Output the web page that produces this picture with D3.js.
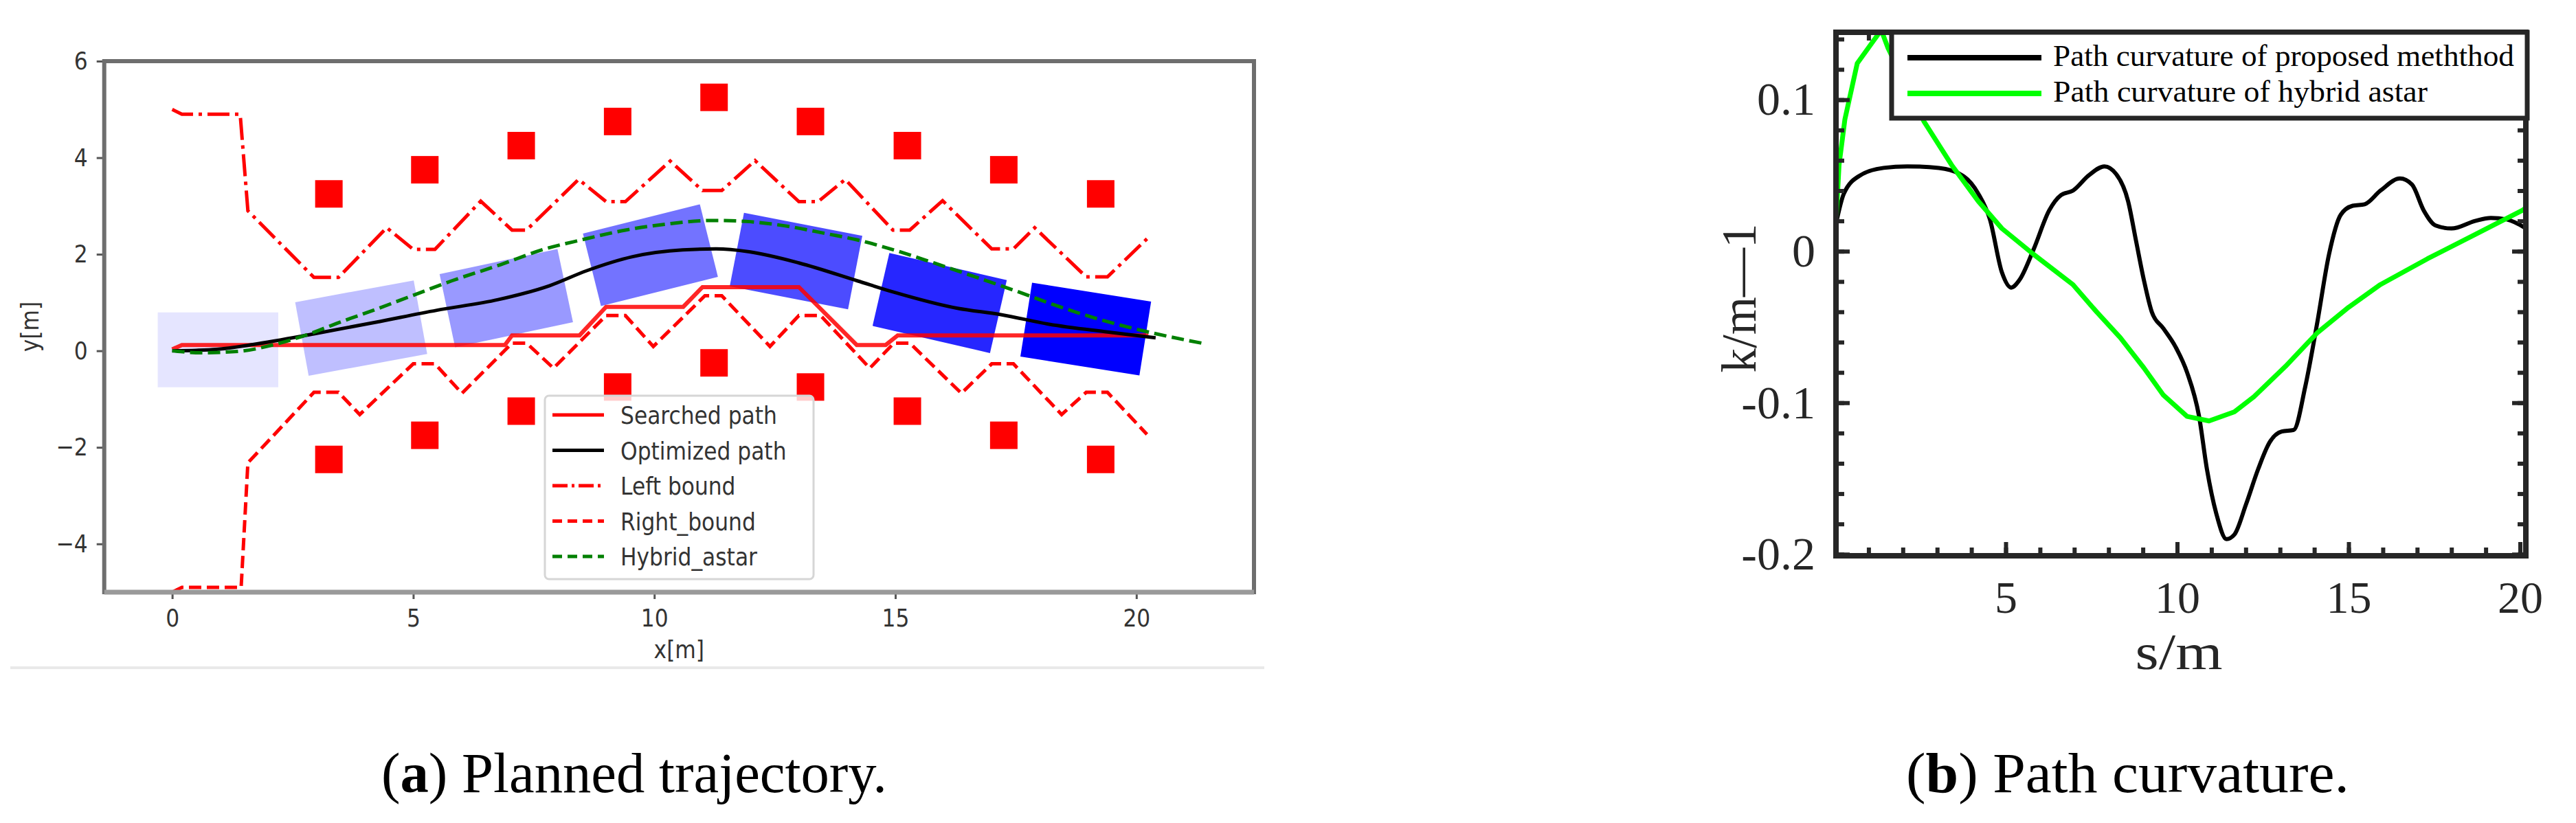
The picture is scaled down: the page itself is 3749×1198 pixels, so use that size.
<!DOCTYPE html>
<html><head><meta charset="utf-8">
<script src="https://cdn.jsdelivr.net/npm/d3@7"></script>
<style>html,body{margin:0;padding:0;background:#fff;overflow:hidden}</style>
</head><body>
<svg id="chart" width="3749" height="1198"></svg>
<script>
// ---------------- DATA: (a) planned trajectory ----------------
const xTicksA = [0, 5, 10, 15, 20];
const yTicksA = [-4, -2, 0, 2, 4, 6];

const obstacleX = [3.25, 5.24, 7.24, 9.24, 11.24, 13.24, 15.25, 17.25, 19.26];
const upperObstacleY = [3.25, 3.75, 4.25, 4.75, 5.25, 4.75, 4.25, 3.75, 3.25];
const lowerObstacleY = [-2.25, -1.75, -1.25, -0.75, -0.25, -0.75, -1.25, -1.75, -2.25];

const boxX = [0.95, 3.92, 6.93, 9.92, 12.94, 15.92, 18.95];
const boxY = [0.02, 0.47, 1.09, 1.98, 1.86, 0.99, 0.45];
const boxHeading = [0, 10.4, 12, 14, -11, -13, -9];

const searchedX = [0, 0.2, 6.9, 7.05, 8.45, 9.0, 10.6, 11.0, 13.0, 14.2, 14.8, 15.05, 20.25];
const searchedY = [0.03, 0.12, 0.12, 0.32, 0.32, 0.91, 0.91, 1.32, 1.32, 0.12, 0.12, 0.32, 0.32];

const optimizedX = [0, 0.5, 0.92, 1.67, 2.94, 4.21, 5.49, 6.76, 7.83, 8.6, 9.55, 10.59, 11.28, 11.97, 13.0, 14.21, 14.95, 16.29, 17.19, 18.19, 19.4, 20.4];
const optimizedY = [0, 0.01, 0.03, 0.13, 0.35, 0.59, 0.84, 1.06, 1.35, 1.66, 1.95, 2.09, 2.11, 2.05, 1.82, 1.45, 1.22, 0.88, 0.75, 0.55, 0.39, 0.27];

const leftBoundX = [0, 0.2, 1.41, 1.57, 2.94, 3.45, 4.45, 5.0, 5.45, 6.4, 7.05, 7.35, 8.43, 9.0, 9.4, 10.33, 11.0, 11.4, 12.09, 13.0, 13.4, 13.96, 14.95, 15.3, 15.98, 17.0, 17.45, 17.89, 18.96, 19.4, 20.22];
const leftBoundY = [5.0, 4.9, 4.9, 2.9, 1.52, 1.52, 2.55, 2.1, 2.1, 3.1, 2.5, 2.5, 3.55, 3.09, 3.09, 3.93, 3.32, 3.32, 3.94, 3.09, 3.09, 3.55, 2.5, 2.5, 3.11, 2.11, 2.11, 2.55, 1.53, 1.53, 2.32];

const rightBoundX = [0, 0.2, 1.43, 1.57, 2.94, 3.45, 3.89, 5.0, 5.45, 6.01, 7.05, 7.35, 7.91, 9.0, 9.4, 9.98, 11.05, 11.4, 12.4, 13.0, 13.45, 14.47, 14.97, 15.3, 16.37, 17.0, 17.45, 18.45, 18.96, 19.4, 20.22];
const rightBoundY = [-5.0, -4.9, -4.9, -2.32, -0.86, -0.86, -1.32, -0.27, -0.27, -0.88, 0.16, 0.16, -0.36, 0.73, 0.73, 0.09, 1.14, 1.14, 0.09, 0.73, 0.73, -0.36, 0.16, 0.16, -0.88, -0.27, -0.27, -1.32, -0.86, -0.86, -1.73];

const hybridX = [0, 0.6, 1.4, 2.0, 2.7, 3.5, 4.2, 5.0, 5.8, 6.8, 7.7, 8.5, 9.4, 10.3, 11.2, 11.9, 12.7, 13.6, 14.2, 15.0, 15.8, 16.6, 17.5, 18.3, 19.2, 20.2, 21.4];
const hybridY = [0, -0.04, -0.01, 0.1, 0.3, 0.6, 0.85, 1.15, 1.45, 1.78, 2.1, 2.3, 2.5, 2.63, 2.7, 2.68, 2.59, 2.42, 2.3, 2.08, 1.82, 1.55, 1.24, 0.95, 0.66, 0.4, 0.15];

const legendA = ["Searched path", "Optimized path", "Left bound", "Right_bound", "Hybrid_astar"];

// ---------------- DATA: (b) path curvature ----------------
const xTicksB = [5, 10, 15, 20];
const xMinorB = d3.range(1, 21, 1);
const yTicksB = [-0.2, -0.1, 0, 0.1];
const yTickLabelsB = ["-0.2", "-0.1", "0", "0.1"];
const yMinorB = [-0.2, -0.18, -0.16, -0.14, -0.12, -0.1, -0.08, -0.06, -0.04, -0.02, 0, 0.02, 0.04, 0.06, 0.08, 0.1, 0.12, 0.14];

const proposedS = [0.05, 0.28, 0.75, 1.44, 2.13, 3.05, 3.74, 4.2, 4.54, 4.89, 5.16, 5.4, 5.81, 6.27, 6.61, 6.96, 7.42, 7.88, 8.22, 8.57, 8.8, 9.03, 9.26, 9.6, 9.95, 10.29, 10.64, 10.87, 11.14, 11.44, 11.67, 12.01, 12.36, 12.7, 13.05, 13.4, 13.74, 14.08, 14.43, 14.77, 15.12, 15.47, 15.93, 16.5, 16.85, 17.19, 17.54, 18.0, 18.69, 19.15, 19.61, 20.18];
const proposedK = [0.018, 0.038, 0.05, 0.055, 0.056, 0.055, 0.05, 0.038, 0.021, -0.014, -0.024, -0.019, 0.001, 0.027, 0.037, 0.04, 0.05, 0.056, 0.051, 0.033, 0.007, -0.019, -0.04, -0.051, -0.063, -0.08, -0.109, -0.144, -0.173, -0.19, -0.187, -0.167, -0.144, -0.126, -0.119, -0.118, -0.089, -0.048, -0.002, 0.024, 0.03, 0.031, 0.04, 0.048, 0.044, 0.027, 0.017, 0.015, 0.02, 0.022, 0.021, 0.015];

const hybridS = [0.05, 0.14, 0.31, 0.67, 1.37, 1.57, 2.62, 3.42, 4.2, 4.89, 5.81, 6.96, 7.65, 8.34, 9.03, 9.6, 10.29, 10.93, 11.67, 12.24, 13.16, 14.08, 15.0, 15.93, 17.3, 18.69, 20.07, 20.2];
const hybridK = [0.018, 0.057, 0.087, 0.124, 0.146, 0.134, 0.0855, 0.057, 0.033, 0.015, -0.002, -0.022, -0.04, -0.057, -0.077, -0.095, -0.109, -0.112, -0.106, -0.096, -0.076, -0.054, -0.037, -0.022, -0.005, 0.011, 0.027, 0.029];

const legendB = ["Path curvature of proposed meththod", "Path curvature of hybrid astar"];
const captions = [["(", "a", ") Planned trajectory."], ["(", "b", ") Path curvature."]];

// ---------------- DRAW ----------------
const svg = d3.select('#chart');
svg.append('rect').attr('width', 3749).attr('height', 1198).attr('fill', '#fff');
const defs = svg.append('defs');

// ===== (a) =====
const LA = {x0: 151.7, x1: 1825, y0: 89, y1: 862};
const xA = d3.scaleLinear().domain([-1.41, 22.44]).range([LA.x0, LA.x1]);
const yA = d3.scaleLinear().domain([-5, 6]).range([LA.y1, LA.y0]);
defs.append('clipPath').attr('id', 'clipA').append('rect')
  .attr('x', LA.x0).attr('y', LA.y0).attr('width', LA.x1 - LA.x0).attr('height', LA.y1 - LA.y0);

const gA = svg.append('g').attr('font-family', 'DejaVu Sans').attr('fill', '#333');
const plotA = gA.append('g').attr('clip-path', 'url(#clipA)');

// separator line beneath panel (a)
svg.append('line').attr('x1', 15).attr('x2', 1840).attr('y1', 972).attr('y2', 972)
  .attr('stroke', '#e9e9e9').attr('stroke-width', 4);

// vehicle footprints
const BOX_L = 2.5, BOX_W = 1.55;
boxX.forEach((cx, i) => {
  const th = boxHeading[i] * Math.PI / 180, c = Math.cos(th), s = Math.sin(th);
  const pts = [[-1, -1], [1, -1], [1, 1], [-1, 1]].map(([a, b]) => {
    const dx = a * BOX_L / 2, dy = b * BOX_W / 2;
    return [xA(cx + dx * c - dy * s), yA(boxY[i] + dx * s + dy * c)];
  });
  plotA.append('polygon').attr('points', pts.map(p => p.join(',')).join(' '))
    .attr('fill', '#0000ff').attr('fill-opacity', 0.1 + 0.9 * i / 6);
});

const lineA = d3.line().x(d => xA(d[0])).y(d => yA(d[1]));
const LW = 5;
plotA.append('path').datum(d3.zip(searchedX, searchedY)).attr('d', lineA)
  .attr('fill', 'none').attr('stroke', '#ff0000').attr('stroke-opacity', 0.85).attr('stroke-width', LW + 1);
plotA.append('path').datum(d3.zip(optimizedX, optimizedY)).attr('d', lineA.curve(d3.curveMonotoneX))
  .attr('fill', 'none').attr('stroke', '#000').attr('stroke-width', LW);
lineA.curve(d3.curveLinear);
plotA.append('path').datum(d3.zip(leftBoundX, leftBoundY)).attr('d', lineA)
  .attr('fill', 'none').attr('stroke', '#ff0000').attr('stroke-width', LW)
  .attr('stroke-dasharray', '32,8,5,8');
plotA.append('path').datum(d3.zip(rightBoundX, rightBoundY)).attr('d', lineA)
  .attr('fill', 'none').attr('stroke', '#ff0000').attr('stroke-width', LW)
  .attr('stroke-dasharray', '18,8');
plotA.append('path').datum(d3.zip(hybridX, hybridY)).attr('d', lineA.curve(d3.curveMonotoneX))
  .attr('fill', 'none').attr('stroke', '#008000').attr('stroke-width', LW)
  .attr('stroke-dasharray', '18,8');

// obstacles
const OB = 40;
[upperObstacleY, lowerObstacleY].forEach(ys => {
  plotA.selectAll(null).data(d3.zip(obstacleX, ys)).enter().append('rect')
    .attr('x', d => xA(d[0]) - OB / 2).attr('y', d => yA(d[1]) - OB / 2)
    .attr('width', OB).attr('height', OB).attr('fill', '#ff0000');
});

// axes (a)
const axAx = gA.append('g').attr('transform', `translate(0,${LA.y1})`)
  .call(d3.axisBottom(xA).tickValues(xTicksA).tickSize(10).tickPadding(14));
const axAy = gA.append('g').attr('transform', `translate(${LA.x0},0)`)
  .call(d3.axisLeft(yA).tickValues(yTicksA).tickSize(11).tickPadding(13));
[axAx, axAy].forEach(g => {
  g.select('.domain').remove();
  g.selectAll('.tick line').attr('stroke', '#555').attr('stroke-width', 3);
  g.selectAll('text').attr('font-size', 36).attr('font-family', 'DejaVu Sans').attr('fill', '#333');
});
// spines
gA.append('line').attr('x1', LA.x0).attr('x2', LA.x1).attr('y1', LA.y0).attr('y2', LA.y0).attr('stroke', '#6e6e6e').attr('stroke-width', 6);
gA.append('line').attr('x1', LA.x0).attr('x2', LA.x0).attr('y1', LA.y0 - 3).attr('y2', LA.y1 + 3).attr('stroke', '#6e6e6e').attr('stroke-width', 6);
gA.append('line').attr('x1', LA.x1).attr('x2', LA.x1).attr('y1', LA.y0 - 3).attr('y2', LA.y1 + 3).attr('stroke', '#6e6e6e').attr('stroke-width', 6);
gA.append('line').attr('x1', LA.x0).attr('x2', LA.x1).attr('y1', LA.y1).attr('y2', LA.y1).attr('stroke', '#9a9a9a').attr('stroke-width', 7);

gA.append('text').attr('x', (LA.x0 + LA.x1) / 2).attr('y', 958).attr('text-anchor', 'middle')
  .attr('font-size', 36).text('x[m]');
gA.append('text').attr('transform', `translate(56,${(LA.y0 + LA.y1) / 2}) rotate(-90)`).attr('text-anchor', 'middle')
  .attr('font-size', 36).text('y[m]');

// legend (a)
const legA = gA.append('g');
legA.append('rect').attr('x', 793).attr('y', 576).attr('width', 391).attr('height', 267).attr('rx', 6)
  .attr('fill', '#fff').attr('fill-opacity', 0.8).attr('stroke', '#d6d6d6').attr('stroke-width', 3);
const legStyles = [
  {c: '#ff0000', d: null}, {c: '#000', d: null}, {c: '#ff0000', d: '22,6,4,6'},
  {c: '#ff0000', d: '14,8'}, {c: '#008000', d: '14,8'}];
legendA.forEach((t, i) => {
  const y = 604 + i * 51.5;
  legA.append('line').attr('x1', 804).attr('x2', 879).attr('y1', y).attr('y2', y)
    .attr('stroke', legStyles[i].c).attr('stroke-width', LW).attr('stroke-dasharray', legStyles[i].d);
  legA.append('text').attr('x', 903).attr('y', y + 13).attr('font-size', 36).text(t);
});

// horizontal squeeze of panel (a) text, like the reference
gA.selectAll('text').each(function () {
  const w = this.getComputedTextLength();
  d3.select(this).attr('textLength', w * 0.87).attr('lengthAdjust', 'spacingAndGlyphs');
});

// ===== (b) =====
const LB = {x0: 2672, x1: 3676, y0: 47, y1: 809};
const xB = d3.scaleLinear().domain([0.05, 20.17]).range([LB.x0, LB.x1]);
const yB = d3.scaleLinear().domain([-0.201, 0.1445]).range([LB.y1, LB.y0]);
defs.append('clipPath').attr('id', 'clipB').append('rect')
  .attr('x', LB.x0).attr('y', LB.y0).attr('width', LB.x1 - LB.x0).attr('height', LB.y1 - LB.y0);
const gB = svg.append('g').attr('font-family', 'Liberation Serif, DejaVu Serif, serif').attr('fill', '#262626');
const plotB = gB.append('g').attr('clip-path', 'url(#clipB)');
const lineB = d3.line().x(d => xB(d[0])).y(d => yB(d[1]));
plotB.append('path').datum(d3.zip(proposedS, proposedK)).attr('d', lineB.curve(d3.curveMonotoneX))
  .attr('fill', 'none').attr('stroke', '#000').attr('stroke-width', 6).attr('stroke-linejoin', 'round');
plotB.append('path').datum(d3.zip(hybridS, hybridK)).attr('d', lineB.curve(d3.curveLinear))
  .attr('fill', 'none').attr('stroke', '#00ff00').attr('stroke-width', 7).attr('stroke-linejoin', 'round');

function ticksB(g) {
  g.select('.domain').remove();
  g.attr('color', '#262626');
  g.selectAll('.tick line').attr('stroke-width', 6);
}
const fmtY = d => yTickLabelsB[yTicksB.indexOf(d)];
// minor ticks all sides
gB.append('g').attr('transform', `translate(${LB.x0},0)`).call(d3.axisLeft(yB).tickValues(yMinorB).tickSize(-12).tickFormat('')).call(ticksB);
gB.append('g').attr('transform', `translate(${LB.x1},0)`).call(d3.axisRight(yB).tickValues(yMinorB).tickSize(-12).tickFormat('')).call(ticksB);
gB.append('g').attr('transform', `translate(0,${LB.y1})`).call(d3.axisBottom(xB).tickValues(xMinorB).tickSize(-12).tickFormat('')).call(ticksB);
gB.append('g').attr('transform', `translate(0,${LB.y0})`).call(d3.axisTop(xB).tickValues(xMinorB).tickSize(-12).tickFormat('')).call(ticksB);
// major ticks
const yAxB = gB.append('g').attr('transform', `translate(${LB.x0},0)`)
  .call(d3.axisLeft(yB).tickValues(yTicksB).tickSize(-20).tickPadding(30).tickFormat(fmtY)).call(ticksB);
gB.append('g').attr('transform', `translate(${LB.x1},0)`).call(d3.axisRight(yB).tickValues(yTicksB).tickSize(-20).tickFormat('')).call(ticksB);
const xAxB = gB.append('g').attr('transform', `translate(0,${LB.y1})`)
  .call(d3.axisBottom(xB).tickValues(xTicksB).tickSize(-20).tickPadding(36)).call(ticksB);
gB.append('g').attr('transform', `translate(0,${LB.y0})`).call(d3.axisTop(xB).tickValues(xTicksB).tickSize(-20).tickFormat('')).call(ticksB);
yAxB.selectAll('text').attr('font-size', 68);
xAxB.selectAll('text').attr('font-size', 66);
[yAxB, xAxB].forEach(g => g.selectAll('text')
  .attr('font-family', 'Liberation Serif, DejaVu Serif, serif').attr('fill', '#262626'));

// frame
gB.append('rect').attr('x', LB.x0).attr('y', LB.y0).attr('width', LB.x1 - LB.x0).attr('height', LB.y1 - LB.y0)
  .attr('fill', 'none').attr('stroke', '#262626').attr('stroke-width', 8);

// legend (b)
const legB = gB.append('g');
legB.append('rect').attr('x', 2753).attr('y', 47).attr('width', 925).attr('height', 125)
  .attr('fill', '#fff').attr('stroke', '#262626').attr('stroke-width', 7);
const legBColors = ['#000', '#00ff00'];
const legBY = [84, 136];
const legBW = [671, 545];
legendB.forEach((t, i) => {
  legB.append('line').attr('x1', 2776).attr('x2', 2971).attr('y1', legBY[i]).attr('y2', legBY[i])
    .attr('stroke', legBColors[i]).attr('stroke-width', 8);
  legB.append('text').attr('x', 2988).attr('y', legBY[i] + 12).attr('font-size', 44)
    .attr('textLength', legBW[i]).attr('lengthAdjust', 'spacingAndGlyphs').attr('fill', '#000').text(t);
});

// axis labels (b)
gB.append('text').attr('x', 3171).attr('y', 974).attr('text-anchor', 'middle').attr('font-size', 74)
  .attr('textLength', 127).attr('lengthAdjust', 'spacingAndGlyphs').text('s/m');
gB.append('text').attr('transform', 'translate(2555,434) rotate(-90)').attr('text-anchor', 'middle')
  .attr('font-size', 72).attr('textLength', 217).attr('lengthAdjust', 'spacingAndGlyphs').text('k/m\u20141');

// ===== captions =====
const capX = [555, 2774], capW = [736, 645];
captions.forEach((parts, i) => {
  const t = svg.append('text').attr('x', capX[i]).attr('y', 1153)
    .attr('font-family', 'Liberation Serif, DejaVu Serif, serif').attr('font-size', 82).attr('fill', '#000');
  t.append('tspan').text(parts[0]);
  t.append('tspan').attr('font-weight', 'bold').text(parts[1]);
  t.append('tspan').text(parts[2]);
  const w = t.node().getComputedTextLength();
  const sx = capW[i] / w;
  t.attr('transform', `translate(${capX[i]},0) scale(${sx},1) translate(${-capX[i]},0)`);
});
</script>
</body></html>
